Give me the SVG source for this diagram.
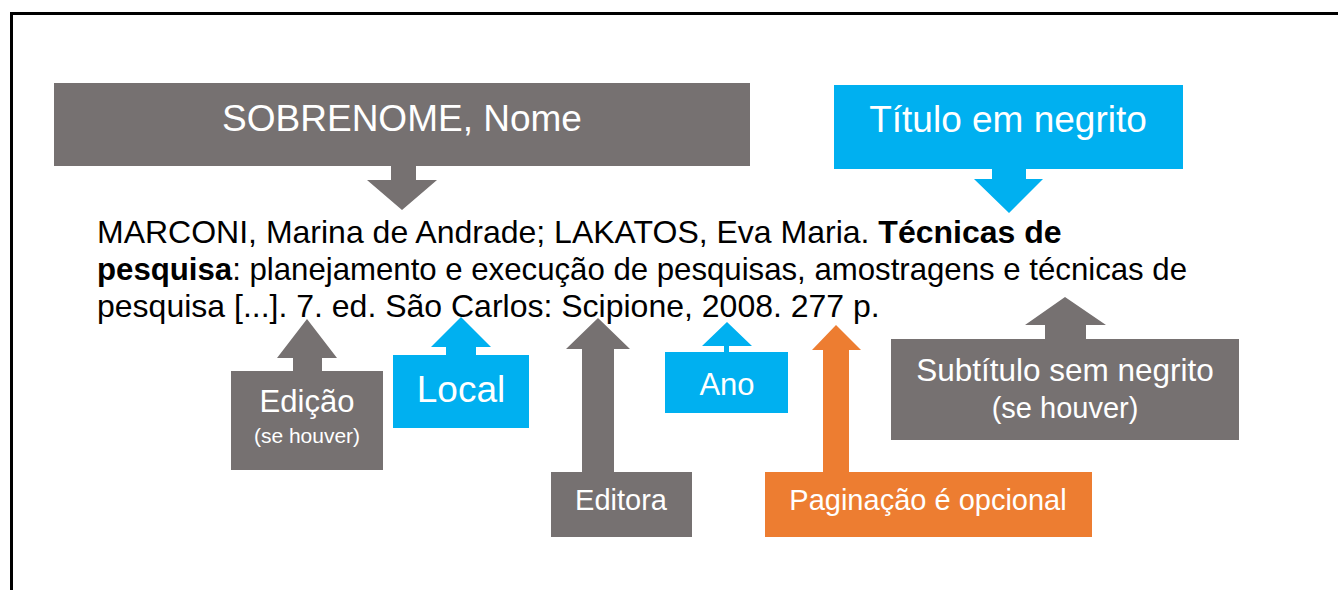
<svg xmlns="http://www.w3.org/2000/svg" width="1338" height="590" viewBox="0 0 1338 590">
<style>
.gray{fill:#767171}
.blue{fill:#00B0F0}
.orange{fill:#ED7D31}
.lbl{font-family:"Liberation Sans",Arial,sans-serif;fill:#FFFFFF;text-anchor:middle}
.ref{font-family:"Liberation Sans",Arial,sans-serif;fill:#000000;font-size:32px}
</style>
<rect x="0" y="0" width="1338" height="590" fill="#FFFFFF"/>
<path d="M11.5,590 V13.5 H1338" fill="none" stroke="#000000" stroke-width="3"/>

<g id="reference-text">
<text class="ref" x="97" y="243">MARCONI, Marina de Andrade; LAKATOS, Eva Maria. <tspan font-weight="bold">Técnicas de</tspan></text>
<text class="ref" x="97" y="280" textLength="1090" lengthAdjust="spacingAndGlyphs"><tspan font-weight="bold">pesquisa</tspan>: planejamento e execução de pesquisas, amostragens e técnicas de</text>
<text class="ref" x="97" y="317">pesquisa [...]. 7. ed. São Carlos: Scipione, 2008. 277 p.</text>
</g>

<g id="connectors">
<polygon class="gray" points="391,166 416,166 416,180 437,180 402,210 367,180 391,180"/>
<polygon class="blue" points="992,169 1026,169 1026,179 1043,179 1009,213 974,179 992,179"/>
<polygon class="gray" points="293,371 322,371 322,358 337,358 307,319 277,358 293,358"/>
<polygon class="blue" points="446,355 476,355 476,347 491,347 461,317 431,347 446,347"/>
<polygon class="gray" points="582,472 614,472 614,349 630,349 598,318 566,349 582,349"/>
<polygon class="blue" points="724,352 729,352 729,346 752,346 727,322 702,346 724,346"/>
<polygon class="orange" points="823,472 849,472 849,350 861,350 836,325 812,350 823,350"/>
<polygon class="gray" points="1045,339 1086,339 1086,325 1106,325 1065,297 1025,325 1045,325"/>
</g>

<g id="node-sobrenome">
<rect class="gray" x="54" y="83" width="696" height="83"/>
<text class="lbl" x="402" y="131" font-size="37">SOBRENOME, Nome</text>
</g>

<g id="node-titulo">
<rect class="blue" x="834" y="85" width="349" height="84"/>
<text class="lbl" x="1008" y="132" font-size="37">Título em negrito</text>
</g>

<g id="node-edicao">
<rect class="gray" x="231" y="371" width="152" height="99"/>
<text class="lbl" x="307" y="412" font-size="31">Edição</text>
<text class="lbl" x="307" y="443" font-size="21">(se houver)</text>
</g>

<g id="node-local">
<rect class="blue" x="393" y="355" width="136" height="73"/>
<text class="lbl" x="461" y="402" font-size="37">Local</text>
</g>

<g id="node-editora">
<rect class="gray" x="551" y="472" width="141" height="65"/>
<text class="lbl" x="621" y="510" font-size="29">Editora</text>
</g>

<g id="node-ano">
<rect class="blue" x="665" y="352" width="123" height="61"/>
<text class="lbl" x="727" y="395" font-size="31">Ano</text>
</g>

<g id="node-paginacao">
<rect class="orange" x="765" y="472" width="327" height="65"/>
<text class="lbl" x="928" y="510" font-size="29">Paginação é opcional</text>
</g>

<g id="node-subtitulo">
<rect class="gray" x="891" y="339" width="348" height="101"/>
<text class="lbl" x="1065" y="381" font-size="31.5">Subtítulo sem negrito</text>
<text class="lbl" x="1065" y="418" font-size="29">(se houver)</text>
</g>
</svg>
